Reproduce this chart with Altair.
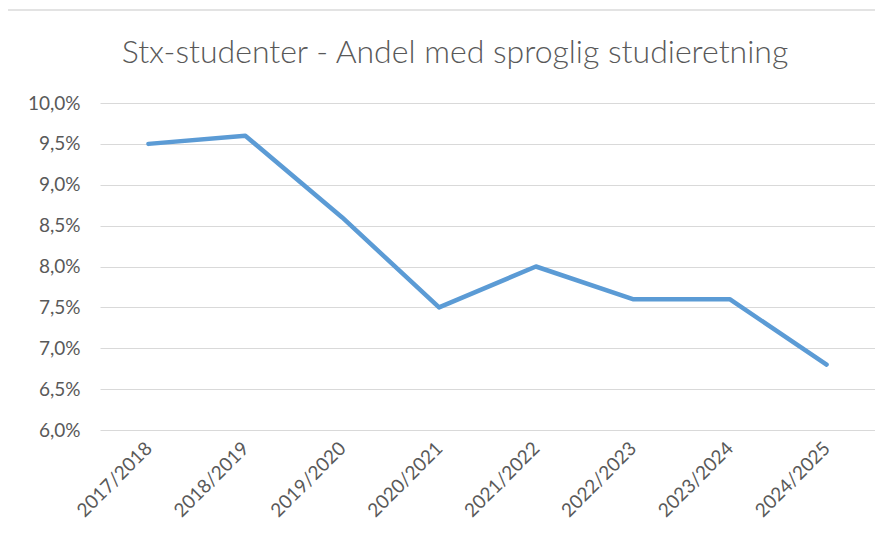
import altair as alt
import pandas as pd

years = ["2017/2018", "2018/2019", "2019/2020", "2020/2021",
         "2021/2022", "2022/2023", "2023/2024", "2024/2025"]
shares = [0.095, 0.096, 0.086, 0.075, 0.080, 0.076, 0.076, 0.068]
y_ticks = [0.060, 0.065, 0.070, 0.075, 0.080, 0.085, 0.090, 0.095, 0.100]
title_text = "Stx-studenter - Andel med sproglig studieretning"

df = pd.DataFrame({"year": years, "share": shares})

FONT = "Lato"
GREY = "#595959"

line = alt.Chart(df).mark_line(
    color="#5b9bd5", strokeWidth=4.5, strokeCap="round", strokeJoin="round"
).encode(
    x=alt.X("year:N", sort=years, title=None,
            scale=alt.Scale(type="point", padding=0.5),
            axis=alt.Axis(labelAngle=-45, labelAlign="right", labelBaseline="middle",
                          labelPadding=15, ticks=False, domain=False, grid=False,
                          labelFont=FONT, labelFontSize=19, labelColor=GREY)),
    y=alt.Y("share:Q", title=None,
            scale=alt.Scale(domain=[0.06, 0.10], nice=False, zero=False),
            axis=alt.Axis(values=y_ticks, labelExpr="replace(format(datum.value, '.1%'), '.', ',')",
                          ticks=False, domain=False, grid=True, gridColor="#d9d9d9",
                          gridWidth=1.2, labelPadding=20, labelFont=FONT,
                          labelFontSize=19, labelColor=GREY))
)

border_top = alt.Chart(df).mark_rule(color="#e3e3e3", strokeWidth=2).encode(
    x=alt.value(-93), x2=alt.value(780), y=alt.value(-93))
border_left = alt.Chart(df).mark_rule(color="#e3e3e3", strokeWidth=2).encode(
    x=alt.value(-93), y=alt.value(-93), y2=alt.value(430))

title = alt.Chart(pd.DataFrame({"t": [title_text]})).mark_text(
    font=FONT, fontSize=32, fontWeight=300, color=GREY,
    align="center", baseline="alphabetic"
).encode(text="t:N", x=alt.value(355), y=alt.value(-40))

chart = alt.layer(border_top, border_left, line, title).properties(
    width=775, height=327,
    autosize=alt.AutoSizeParams(type="none"),
    padding={"left": 92, "top": 95, "right": 0, "bottom": 100},
).configure_view(stroke=None)

chart.save("out.html", embed_options={"renderer": "svg", "actions": False})
